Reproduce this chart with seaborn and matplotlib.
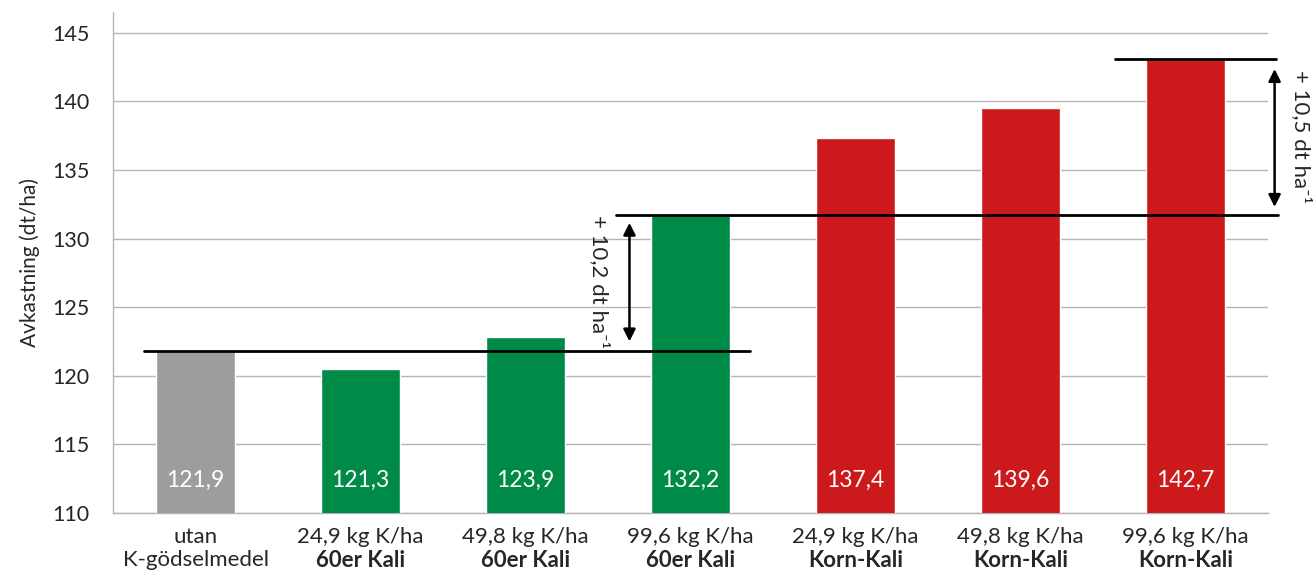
import matplotlib
matplotlib.use("Agg")
import matplotlib.pyplot as plt
import matplotlib.transforms as mtransforms
import seaborn as sns
import pandas as pd

# data
categories = ["utan", "24,9 kg K/ha", "49,8 kg K/ha", "99,6 kg K/ha",
              "24,9 kg K/ha ", "49,8 kg K/ha ", "99,6 kg K/ha "]
subtitles = ["K-gödselmedel", "60er Kali", "60er Kali", "60er Kali",
             "Korn-Kali", "Korn-Kali", "Korn-Kali"]
sub_bold = [False, True, True, True, True, True, True]
bar_heights = [121.8, 120.5, 122.85, 131.7, 137.3, 139.5, 143.05]
value_labels = ["121,9", "121,3", "123,9", "132,2", "137,4", "139,6", "142,7"]
colors = ["#9d9d9b", "#008a47", "#008a47", "#008a47", "#cc1a1c", "#cc1a1c", "#cc1a1c"]

ref_levels = [121.8, 131.7, 143.05]
diff_labels = ["+ 10,2 dt ha⁻¹", "+ 10,5 dt ha⁻¹"]

sns.set_theme(style="white")
plt.rcParams["font.family"] = ["Lato", "DejaVu Sans"]

df = pd.DataFrame({"kat": categories, "avk": bar_heights})

fig = plt.figure(figsize=(13.14, 5.72), dpi=100)
ax = fig.add_axes([0.086, 0.103, 0.879, 0.876])

sns.barplot(data=df, x="kat", y="avk", hue="kat", palette=colors,
            width=0.48, legend=False, saturation=1, ax=ax, zorder=3)

ax.set_ylim(110, 146.5)
ax.set_xlim(-0.5, 6.5)
ax.set_yticks([110, 115, 120, 125, 130, 135, 140, 145])
ax.yaxis.grid(True, color="#b5b5b5", linewidth=1, zorder=0)
ax.tick_params(axis="y", length=7, color="#b5b5b5", labelsize=15.5, pad=10)
ax.tick_params(axis="x", length=0)
for s in ["top", "right"]:
    ax.spines[s].set_visible(False)
for s in ["left", "bottom"]:
    ax.spines[s].set_color("#b5b5b5")
    ax.spines[s].set_linewidth(1)
ax.set_xticks(range(len(categories)))
ax.set_xticklabels([""] * len(categories))
ax.set_xlabel("")
ax.set_ylabel("Avkastning (dt/ha)", fontsize=15, labelpad=9)

# value labels in the bars
for i, lab in enumerate(value_labels):
    ax.text(i, 112.4, lab, ha="center", va="center", color="white", fontsize=16.5, zorder=4)

# two-line category labels
trans = mtransforms.blended_transform_factory(ax.transData, ax.transAxes)
for i, (c, s, b) in enumerate(zip(categories, subtitles, sub_bold)):
    ax.text(i, -0.028, c.strip(), ha="center", va="top", fontsize=16, transform=trans)
    ax.text(i, -0.073, s, ha="center", va="top", fontsize=16,
            fontweight="bold" if b else "normal", transform=trans)

# reference lines
ax.plot([-0.31, 3.36], [ref_levels[0]] * 2, color="black", lw=2, zorder=5)
ax.plot([2.55, 6.56], [ref_levels[1]] * 2, color="black", lw=2, zorder=5, clip_on=False)
ax.plot([5.57, 6.55], [ref_levels[2]] * 2, color="black", lw=2, zorder=5, clip_on=False)

# arrows with differences
arrow_kw = dict(arrowstyle="<|-|>", color="black", lw=1.8, mutation_scale=18)
ax.annotate("", xy=(2.63, ref_levels[1] - 0.35), xytext=(2.63, ref_levels[0] + 0.5),
            arrowprops=arrow_kw, annotation_clip=False)
ax.annotate("", xy=(6.54, ref_levels[2] - 0.5), xytext=(6.54, ref_levels[1] + 0.4),
            arrowprops=arrow_kw, annotation_clip=False)
ax.text(2.45, 126.9, diff_labels[0], rotation=-90, ha="center", va="center", fontsize=16)
ax.text(6.7, 137.4, diff_labels[1], rotation=-90, ha="center", va="center", fontsize=16,
        clip_on=False)

fig.savefig("out.png", dpi=100)
